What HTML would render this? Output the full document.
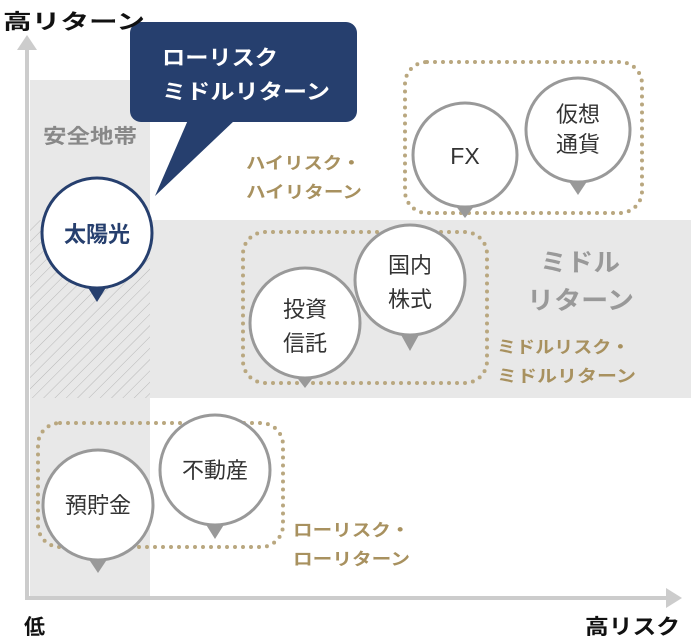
<!DOCTYPE html><html><head><meta charset="utf-8"><style>body{margin:0;background:#fff}svg{display:block}text{font-family:"Liberation Sans","Noto Sans CJK JP",sans-serif}</style></head><body>
<svg width="691" height="640" viewBox="0 0 691 640">
<defs><pattern id="h" width="8" height="8" patternUnits="userSpaceOnUse" patternTransform="rotate(45)"><rect width="8" height="8" fill="#e8e8e8"/><line x1="0" y1="0" x2="0" y2="8" stroke="#b8b8b8" stroke-width="1"/></pattern></defs>
<rect x="30" y="80" width="120" height="518" fill="#e8e8e8"/>
<rect x="150" y="220" width="541" height="178" fill="#e8e8e8"/>
<rect x="30" y="220" width="120" height="178" fill="url(#h)"/>
<line x1="27" y1="48" x2="27" y2="600" stroke="#ccc" stroke-width="4"/>
<polygon points="27,35 17,50 37,50" fill="#ccc"/>
<line x1="25" y1="598" x2="668" y2="598" stroke="#ccc" stroke-width="4"/>
<polygon points="682,598 666,588 666,608" fill="#ccc"/>
<g fill="none" stroke="#b9a77f" stroke-width="4" stroke-linecap="round" stroke-dasharray="0 8">
<rect x="405" y="62" width="237" height="151" rx="22"/>
<rect x="243" y="232" width="244" height="151" rx="22"/>
<rect x="38" y="423" width="245" height="124" rx="22"/>
</g>
<rect x="130" y="22" width="227" height="100" rx="11" fill="#263f6e"/>
<polygon points="188,120 235,120 155,196" fill="#263f6e"/>
<g lengthAdjust="spacingAndGlyphs">
<text x="162" y="65" fill="#fff" font-size="21" font-weight="bold" textLength="116" lengthAdjust="spacingAndGlyphs">ローリスク</text>
<text x="162" y="99" fill="#fff" font-size="21" font-weight="bold" textLength="168" lengthAdjust="spacingAndGlyphs">ミドルリターン</text>
<g font-weight="bold">
<text x="3" y="29" font-size="21" fill="#111" textLength="142" lengthAdjust="spacingAndGlyphs">高リターン</text>
<text x="43" y="143" font-size="20" fill="#888" textLength="94" lengthAdjust="spacingAndGlyphs">安全地帯</text>
<text x="24" y="634" font-size="21" fill="#111">低</text>
<text x="585" y="634" font-size="21" fill="#111" textLength="95" lengthAdjust="spacingAndGlyphs">高リスク</text>
<g fill="#a8915f" font-size="17"><text x="246" y="169" textLength="115" lengthAdjust="spacingAndGlyphs">ハイリスク・</text><text x="246" y="198" textLength="116" lengthAdjust="spacingAndGlyphs">ハイリターン</text>
<text x="497" y="353" textLength="133" lengthAdjust="spacingAndGlyphs">ミドルリスク・</text><text x="497" y="382" textLength="139" lengthAdjust="spacingAndGlyphs">ミドルリターン</text>
<text x="293" y="536" textLength="117" lengthAdjust="spacingAndGlyphs">ローリスク・</text><text x="293" y="565" textLength="117" lengthAdjust="spacingAndGlyphs">ローリターン</text></g>
<text x="540" y="271" font-size="25" fill="#999" textLength="80" lengthAdjust="spacingAndGlyphs">ミドル</text>
<text x="527" y="309" font-size="25" fill="#999" textLength="107" lengthAdjust="spacingAndGlyphs">リターン</text>
</g>
</g>
<g stroke="#999" stroke-width="3" fill="#fff">
<polygon points="455,205 475,205 465,218" fill="#999" stroke="none"/>
<circle cx="465" cy="155" r="52"/>
<polygon points="568,180 588,180 578,195" fill="#999" stroke="none"/>
<circle cx="578" cy="130" r="52"/>
<polygon points="295,375 315,375 305,388" fill="#999" stroke="none"/>
<circle cx="305" cy="323" r="55"/>
<polygon points="400,333 420,333 410,351" fill="#999" stroke="none"/>
<circle cx="410" cy="280" r="55"/>
<polygon points="88,558 108,558 98,573" fill="#999" stroke="none"/>
<circle cx="98" cy="505" r="55"/>
<polygon points="205,523 225,523 215,539" fill="#999" stroke="none"/>
<circle cx="215" cy="470" r="55"/>
</g>
<polygon points="87,286 107,286 97,302" fill="#263f6e"/>
<circle cx="97" cy="233" r="55" fill="#fff" stroke="#263f6e" stroke-width="3"/>
<g font-size="22" fill="#333" text-anchor="middle">
<text x="97" y="242" fill="#263f6e" font-weight="bold">太陽光</text>
<text x="465" y="164" font-size="23">FX</text>
<text x="578" y="122">仮想</text><text x="578" y="152">通貨</text>
<text x="305" y="317">投資</text><text x="305" y="351">信託</text>
<text x="410" y="273">国内</text><text x="410" y="307">株式</text>
<text x="98" y="513">預貯金</text>
<text x="215" y="478">不動産</text>
</g>
</svg></body></html>
